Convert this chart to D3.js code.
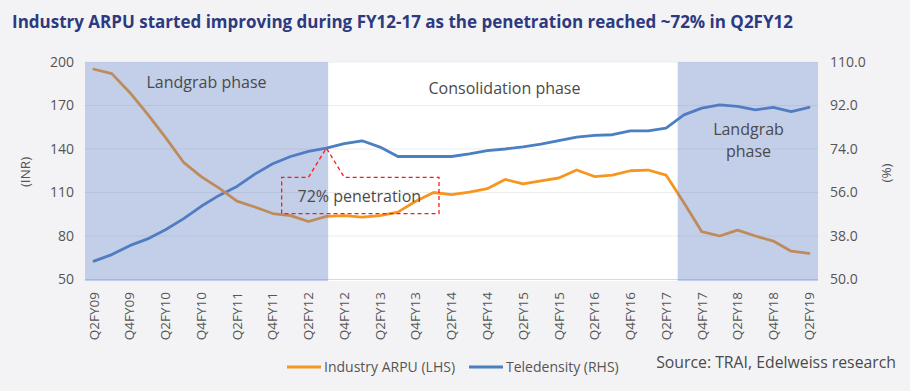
<!DOCTYPE html>
<html>
<head>
<meta charset="utf-8">
<script src="https://cdn.jsdelivr.net/npm/d3@7"></script>
<style>
  html, body { margin: 0; padding: 0; background: #f3f3f5; }
  svg { display: block; }
  text { font-family: "Open Sans", "DejaVu Sans", sans-serif; }
</style>
</head>
<body>
<svg id="chart" width="910" height="391"></svg>
<script>
// ---------------- DATA ----------------
const categories = [
  "Q2FY09","Q3FY09","Q4FY09",
  "Q1FY10","Q2FY10","Q3FY10","Q4FY10",
  "Q1FY11","Q2FY11","Q3FY11","Q4FY11",
  "Q1FY12","Q2FY12","Q3FY12","Q4FY12",
  "Q1FY13","Q2FY13","Q3FY13","Q4FY13",
  "Q1FY14","Q2FY14","Q3FY14","Q4FY14",
  "Q1FY15","Q2FY15","Q3FY15","Q4FY15",
  "Q1FY16","Q2FY16","Q3FY16","Q4FY16",
  "Q1FY17","Q2FY17","Q3FY17","Q4FY17",
  "Q1FY18","Q2FY18","Q3FY18","Q4FY18",
  "Q1FY19","Q2FY19"
];
// Industry ARPU (INR, LHS)
const arpu = [
  195, 192, 179, 164, 148, 131, 121, 113, 104, 100, 95.5,
  94, 90, 93.5, 94, 93, 94, 96.5, 104, 110, 108.5,
  110.3, 112.6, 119, 116, 118, 120, 125.5, 121, 122, 125,
  125.5, 122, 103, 83, 80, 84, 80, 76.5, 69.5, 68
];
// Teledensity (%, RHS)
const teledensity = [
  27.6, 30.3, 34.0, 36.8, 40.6, 45.1, 50.3, 54.8, 58.5, 63.6, 67.9,
  70.9, 73.0, 74.4, 76.2, 77.4, 74.8, 70.9, 70.9, 70.9, 70.9,
  72.0, 73.3, 74.0, 74.9, 76.0, 77.5, 78.9, 79.6, 79.9, 81.5,
  81.5, 82.6, 88.1, 90.9, 92.3, 91.6, 90.2, 91.2, 89.5, 91.2
];
const leftTicks = [200, 170, 140, 110, 80, 50];
const rightTicks = [110, 92, 74, 56, 38, 20];
const rightTickLabels = ["110.0", "92.0", "74.0", "56.0", "38.0", "50.0"];
const xTickLabels = categories.filter((d, i) => i % 2 === 0);
const phaseLabels = [["Landgrab phase"], ["Consolidation phase"], ["Landgrab", "phase"]];
const title = "Industry ARPU started improving during FY12-17 as the penetration reached ~72% in Q2FY12";
const seriesNames = ["Industry ARPU (LHS)", "Teledensity (RHS)"];
const source = "Source: TRAI, Edelweiss research";

// ---------------- LAYOUT ----------------
const svg = d3.select("#chart");
const X0 = 85, X1 = 818, YT = 62, YB = 279.5;
const orange = "#f7961f", blue = "#4a7fc2";
const textCol = "#555555";

const x = d3.scaleBand().domain(categories).range([X0, X1]).padding(0);
const xc = d => x(d) + x.bandwidth() / 2;
const yL = d3.scaleLinear().domain([50, 200]).range([YB, YT]);
const yR = d3.scaleLinear().domain([20, 110]).range([YB, YT]);

// Title
svg.append("text")
  .attr("x", 12).attr("y", 28)
  .attr("font-size", 17.5).attr("font-weight", 700)
  .attr("fill", "#2d3a80")
  .attr("textLength", 781).attr("lengthAdjust", "spacingAndGlyphs")
  .text(title);

// Plot background
svg.append("rect")
  .attr("x", X0).attr("y", YT)
  .attr("width", X1 - X0).attr("height", YB - YT + 1.5)
  .attr("fill", "#ffffff");

// Gridlines
svg.append("g").selectAll("line").data(leftTicks).join("line")
  .attr("x1", X0).attr("x2", X1)
  .attr("y1", d => yL(d)).attr("y2", d => yL(d))
  .attr("stroke", d => d === 50 ? "#d9d9d9" : "#ececec")
  .attr("stroke-width", 1);

// Lines
const lineL = d3.line().x((d, i) => xc(categories[i])).y(d => yL(d));
const lineR = d3.line().x((d, i) => xc(categories[i])).y(d => yR(d));
svg.append("path").datum(teledensity).attr("d", lineR)
  .attr("fill", "none").attr("stroke", blue).attr("stroke-width", 2.8)
  .attr("stroke-linejoin", "round").attr("stroke-linecap", "round");
svg.append("path").datum(arpu).attr("d", lineL)
  .attr("fill", "none").attr("stroke", orange).attr("stroke-width", 2.8)
  .attr("stroke-linejoin", "round").attr("stroke-linecap", "round");

// Phase shading (translucent, over the lines)
const step = x.step();
const shade = [
  { x0: X0, x1: xc(categories[13]) + step * 0.1 },
  { x0: x(categories[33]) + step * 0.15, x1: X1 }
];
svg.append("g").selectAll("rect").data(shade).join("rect")
  .attr("x", d => d.x0).attr("y", YT)
  .attr("width", d => d.x1 - d.x0).attr("height", YB - YT + 1.5)
  .attr("fill", "#5b7bc4").attr("fill-opacity", 0.37);

// Phase labels
svg.append("text").attr("x", 206.5).attr("y", 87.5)
  .attr("text-anchor", "middle").attr("font-size", 16).attr("fill", "#4a4a4a")
  .text(phaseLabels[0][0]);
svg.append("text").attr("x", 504.5).attr("y", 94)
  .attr("text-anchor", "middle").attr("font-size", 16).attr("fill", "#4a4a4a")
  .text(phaseLabels[1][0]);
const lg = svg.append("text").attr("text-anchor", "middle").attr("font-size", 16).attr("fill", "#4a4a4a");
lg.append("tspan").attr("x", 748.5).attr("y", 134.5).text(phaseLabels[2][0]);
lg.append("tspan").attr("x", 748.5).attr("y", 157).text(phaseLabels[2][1]);

// Callout "72% penetration"
const tipX = xc(categories[13]), tipY = yR(teledensity[13]);
const bx0 = xc(categories[10]) + step * 0.5, bx1 = xc(categories[19]) + step * 0.3;
const by0 = yL(120.5), by1 = yL(95.5);
const px0 = xc(categories[12]), px1 = xc(categories[14]);
const calloutPath = d3.path();
calloutPath.moveTo(px0, by0);
calloutPath.lineTo(tipX, tipY);
calloutPath.lineTo(px1, by0);
calloutPath.lineTo(bx1, by0);
calloutPath.lineTo(bx1, by1);
calloutPath.lineTo(bx0, by1);
calloutPath.lineTo(bx0, by0);
calloutPath.closePath();
svg.append("path").attr("d", calloutPath.toString())
  .attr("fill", "none").attr("stroke", "#ff1a1a").attr("stroke-width", 1.3)
  .attr("stroke-dasharray", "4,3");
svg.append("text").attr("x", (bx0 + bx1) / 2 - 1).attr("y", 201.5)
  .attr("text-anchor", "middle").attr("font-size", 16).attr("fill", "#4a4a4a")
  .text("72% penetration");

// Left axis labels
svg.append("g").selectAll("text").data(leftTicks).join("text")
  .attr("x", 74).attr("y", d => yL(d)).attr("dy", "0.35em")
  .attr("text-anchor", "end").attr("font-size", 14).attr("fill", textCol)
  .text(d => d);
// Right axis labels
svg.append("g").selectAll("text").data(rightTicks).join("text")
  .attr("x", 830).attr("y", d => yR(d)).attr("dy", "0.35em")
  .attr("text-anchor", "start").attr("font-size", 14).attr("fill", textCol)
  .text((d, i) => rightTickLabels[i]);

// Axis titles
svg.append("text").attr("transform", "translate(25,172) rotate(-90)")
  .attr("text-anchor", "middle").attr("dy", "0.35em")
  .attr("font-size", 13.5).attr("fill", textCol).text("(INR)");
svg.append("text").attr("transform", "translate(886,173) rotate(-90)")
  .attr("text-anchor", "middle").attr("dy", "0.35em")
  .attr("font-size", 13.5).attr("fill", textCol).text("(%)");

// X tick labels (rotated)
svg.append("g").selectAll("text").data(xTickLabels).join("text")
  .attr("transform", d => `translate(${xc(d)},292) rotate(-90)`)
  .attr("text-anchor", "end").attr("dy", "0.35em")
  .attr("font-size", 13.5).attr("fill", textCol)
  .text(d => d);

// Legend
const legend = [
  { name: seriesNames[0], color: orange, x: 287 },
  { name: seriesNames[1], color: blue, x: 469 }
];
const lgG = svg.append("g");
legend.forEach(l => {
  lgG.append("line").attr("x1", l.x).attr("x2", l.x + 34)
    .attr("y1", 367).attr("y2", 367)
    .attr("stroke", l.color).attr("stroke-width", 2.8);
  lgG.append("text").attr("x", l.x + 37).attr("y", 367).attr("dy", "0.35em")
    .attr("font-size", 14).attr("fill", textCol)
    .text(l.name);
});

// Source
svg.append("text").attr("x", 896).attr("y", 362).attr("dy", "0.35em")
  .attr("text-anchor", "end").attr("font-size", 15.8).attr("fill", "#4a4a4a")
  .text(source);
</script>
</body>
</html>
